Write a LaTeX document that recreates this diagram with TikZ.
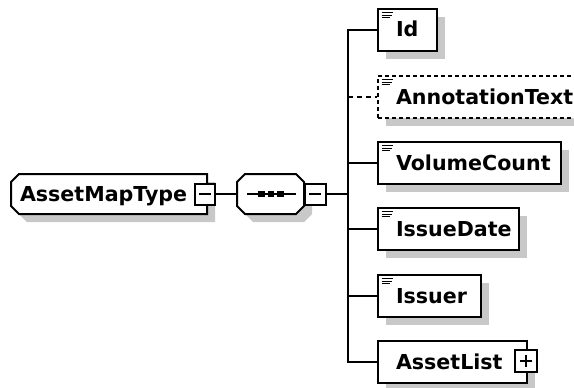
\documentclass[tikz,border=0pt]{standalone}
\usepackage{fontspec}
\newfontfamily\lblfont{DejaVu Sans}
\usetikzlibrary{shadows}
\definecolor{shade}{RGB}{200,200,200}
\tikzset{
  lbl/.style={font=\lblfont\bfseries\fontsize{20.6}{22}\selectfont, text height=16pt, text depth=2pt, align=left},
  elem/.style={lbl, draw, fill=white, line width=2pt, anchor=west, minimum height=42pt,
    inner xsep=0pt, inner ysep=0pt,
    drop shadow={shadow xshift=8pt, shadow yshift=-8pt, fill=shade, opacity=1}},
  icon/.style={path picture={
    \draw[line width=1pt, solid]
      ([shift={(3.5pt,-3.5pt)}]path picture bounding box.north west) -- ++(11pt,0pt)
      ([shift={(3.5pt,-6.2pt)}]path picture bounding box.north west) -- ++(10pt,0pt)
      ([shift={(3.5pt,-8.9pt)}]path picture bounding box.north west) -- ++(8pt,0pt);}},
  optbox/.style={dash pattern=on 4pt off 3pt},
  optline/.style={dash pattern=on 5pt off 4pt},
  conn/.style={line width=2pt},
  outline/.style={draw, fill=white, line width=2pt},
  shadowfill/.style={fill=shade},
  xbox/.style={draw, fill=white, line width=2pt, inner sep=0pt, minimum width=20pt, minimum height=20pt},
  minusbox/.style={xbox, path picture={
    \draw[line width=1.5pt] ([xshift=-6pt]path picture bounding box.center) -- ++(12pt,0pt);}},
  plusbox/.style={xbox, path picture={
    \draw[line width=1.5pt] ([xshift=-6pt]path picture bounding box.center) -- ++(12pt,0pt)
      ([yshift=-6pt]path picture bounding box.center) -- ++(0pt,12pt);}},
}
\begin{document}
\begin{tikzpicture}[x=1pt,y=-1pt]
\fill[white] (0,0) rectangle (574,388);
\useasboundingbox (0,0) rectangle (574,388);

% AssetMapType (left-chamfered box)
\fill[shadowfill] (19,190) -- (27,182) -- (215,182) -- (215,222) -- (27,222) -- (19,214) -- cycle;
\path[outline] (11,182) -- (19,174) -- (207,174) -- (207,214) -- (19,214) -- (11,206) -- cycle;
\node[lbl, inner sep=0pt, minimum width=196pt, minimum height=40pt, text width=178pt] (amt) at (109,194) {AssetMapType};
\node[minusbox, minimum height=21pt] (amtx) at (205,194) {};

% sequence compositor
\fill[shadowfill] (253,182) -- (304,182) -- (312,190) -- (312,214) -- (304,222) -- (253,222) -- (245,214) -- (245,190) -- cycle;
\path[outline] (245,174) -- (296,174) -- (304,182) -- (304,206) -- (296,214) -- (245,214) -- (237,206) -- (237,182) -- cycle;
\node[inner sep=0pt, minimum width=67pt, minimum height=40pt] (seq) at (270.5,194) {};
\draw[line width=2pt] (247,194) -- (296,194);
\foreach \cx in {261.5,271,280.5} \fill (\cx-3.2,190.8) rectangle (\cx+3.2,197.2);
\node[minusbox, minimum width=21pt, minimum height=21pt] (seqx) at (315,194) {};

% children
\node[elem, icon, minimum width=59pt, text width=23pt] (id) at (377,30) {Id};
\node[elem, icon, optbox, minimum width=212pt, text width=176pt] (ann) at (377,97) {AnnotationText};
\node[elem, icon, minimum width=183pt, text width=147pt] (vol) at (377,163) {VolumeCount};
\node[elem, icon, minimum width=141pt, text width=105pt] (date) at (377,229) {IssueDate};
\node[elem, icon, minimum width=103pt, text width=67pt] (issuer) at (377,296) {Issuer};
\node[elem, minimum width=149pt, text width=113pt] (alist) at (377,362) {AssetList};
\node[plusbox, minimum width=22pt, minimum height=22pt] (alistx) at (526,361) {};

% connectors
\coordinate (hub) at (348,194);
\draw[conn] (amtx.east) -- (seq.west);
\draw[conn] (seqx.east) -- (hub);
\draw[conn] (hub) |- (id.west);
\draw[conn] (hub) |- (vol.west);
\draw[conn] (hub) |- (date.west);
\draw[conn] (hub) |- (issuer.west);
\draw[conn] (hub) |- (alist.west);
\draw[conn, optline] (hub |- ann.west) -- (ann.west);
\end{tikzpicture}
\end{document}
